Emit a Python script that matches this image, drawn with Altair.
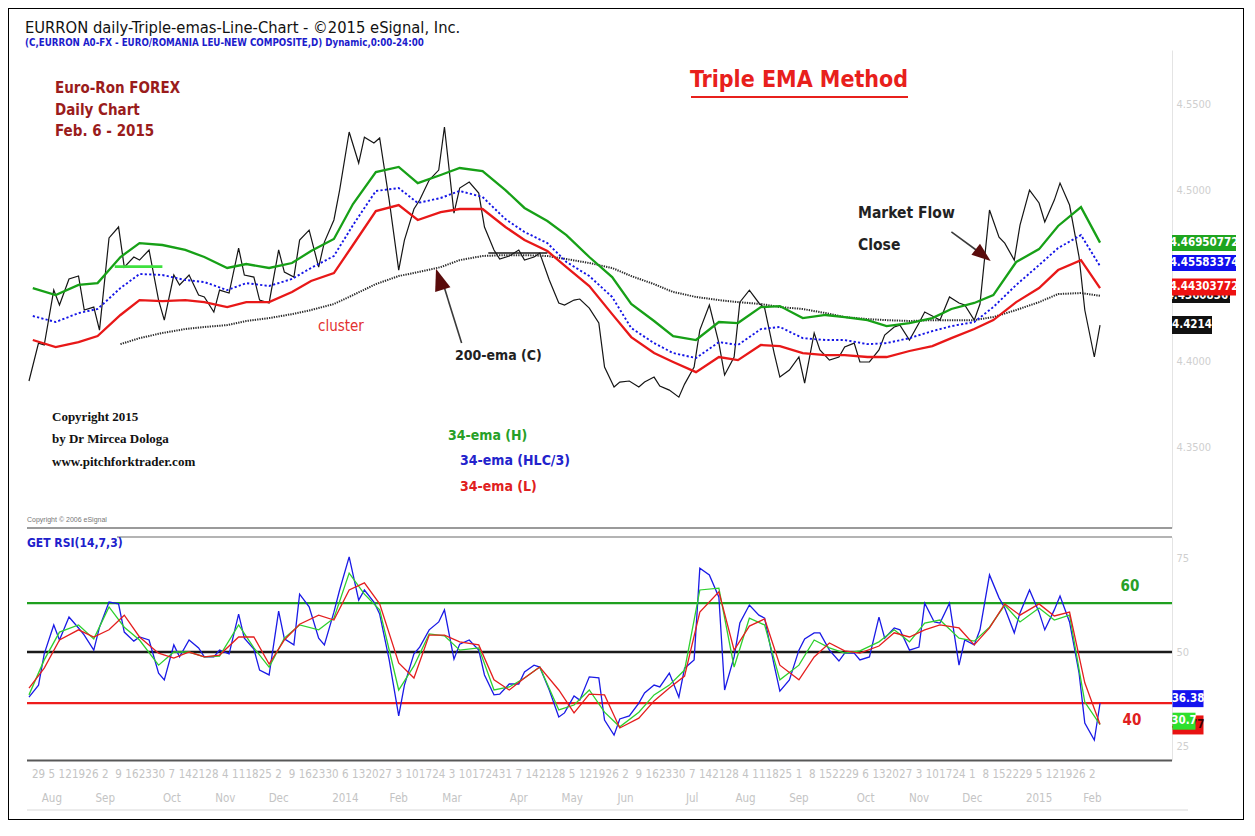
import altair as alt
import pandas as pd

NARROW = "'Liberation Sans Narrow', 'Arial Narrow', 'DejaVu Sans Condensed', 'Liberation Sans', sans-serif"
SERIF = "'Liberation Serif', 'Times New Roman', serif"

# ------------------------------------------------------------------ data
LAST_DAY = "2015-02-06"

close = [
    4.3888, 4.4109, 4.4098, 4.4418, 4.4331, 4.4483, 4.4500, 4.4302, 4.4319, 4.4185,
    4.4722, 4.4786, 4.4552, 4.4611, 4.4593, 4.4652, 4.4360, 4.4243, 4.4506, 4.4448,
    4.4506, 4.4389, 4.4378, 4.4290, 4.4418, 4.4401, 4.4663, 4.4506, 4.4494, 4.4360,
    4.4343, 4.4652, 4.4523, 4.4494, 4.4710, 4.4768, 4.4552, 4.4698, 4.4827, 4.5001,
    4.5340, 4.5159, 4.5310, 4.5276, 4.5305, 4.4943, 4.4535, 4.4710, 4.4891, 4.4943,
    4.5060, 4.5118, 4.5369, 4.4867, 4.5013, 4.5048, 4.4984, 4.4786, 4.4652, 4.4599,
    4.4617, 4.4652, 4.4593, 4.4611, 4.4634, 4.4477, 4.4343, 4.4331, 4.4360, 4.4366,
    4.4313, 4.4226, 4.3969, 4.3853, 4.3882, 4.3888, 4.3853, 4.3882, 4.3911, 4.3859,
    4.3835, 4.3794, 4.3870, 4.3969, 4.4185, 4.4331, 4.4109, 4.3923, 4.4028, 4.4348,
    4.4418, 4.4343, 4.4313, 4.4051, 4.3911, 4.3952, 4.4028, 4.3876, 4.4168, 4.4069,
    4.4010, 4.4028, 4.4086, 4.4109, 4.3999, 4.3999, 4.4069, 4.4156, 4.4203, 4.4214,
    4.4127, 4.4226, 4.4290, 4.4261, 4.4243, 4.4378, 4.4343, 4.4331, 4.4243, 4.4337,
    4.4885, 4.4727, 4.4692, 4.4593, 4.4797, 4.5001, 4.4926, 4.4815, 4.4943, 4.5042,
    4.4914, 4.4611, 4.4302, 4.4028, 4.4214,
]

ema_h = [
    4.4430, 4.4389, 4.4448, 4.4459, 4.4611, 4.4692, 4.4681, 4.4652, 4.4611, 4.4547,
    4.4570, 4.4547, 4.4576, 4.4646, 4.4716, 4.4920, 4.5106, 4.5136, 4.5042, 4.5089,
    4.5130, 4.5112, 4.5001, 4.4897, 4.4821, 4.4739, 4.4611, 4.4494, 4.4337, 4.4238,
    4.4150, 4.4127, 4.4232, 4.4226, 4.4319, 4.4325, 4.4255, 4.4273, 4.4261, 4.4243,
    4.4208, 4.4226, 4.4255, 4.4308, 4.4343, 4.4389, 4.4582, 4.4657, 4.4792, 4.4902,
    4.4695,
]
ema_hlc = [
    4.4267, 4.4232, 4.4284, 4.4308, 4.4430, 4.4512, 4.4506, 4.4477, 4.4465, 4.4418,
    4.4459, 4.4442, 4.4483, 4.4547, 4.4617, 4.4797, 4.4996, 4.5013, 4.4926, 4.4955,
    4.4996, 4.4961, 4.4832, 4.4757, 4.4692, 4.4582, 4.4500, 4.4378, 4.4197, 4.4109,
    4.4051, 4.4022, 4.4115, 4.4098, 4.4191, 4.4203, 4.4138, 4.4127, 4.4127, 4.4103,
    4.4109, 4.4138, 4.4179, 4.4208, 4.4232, 4.4319, 4.4448, 4.4564, 4.4663, 4.4739,
    4.4558,
]
ema_l = [
    4.4127, 4.4086, 4.4115, 4.4150, 4.4273, 4.4360, 4.4354, 4.4360, 4.4348, 4.4319,
    4.4348, 4.4348, 4.4407, 4.4471, 4.4517, 4.4681, 4.4879, 4.4914, 4.4827, 4.4873,
    4.4891, 4.4891, 4.4786, 4.4710, 4.4646, 4.4552, 4.4442, 4.4278, 4.4144, 4.4051,
    4.3999, 4.3940, 4.4028, 4.4010, 4.4098, 4.4092, 4.4051, 4.4039, 4.4039, 4.4028,
    4.4028, 4.4063, 4.4092, 4.4138, 4.4191, 4.4243, 4.4348, 4.4430, 4.4535, 4.4593,
    4.4430,
]
ema_200 = [
    None, None, None, None, 4.4103, 4.4138, 4.4168, 4.4191, 4.4203, 4.4214,
    4.4238, 4.4255, 4.4278, 4.4302, 4.4337, 4.4389, 4.4453, 4.4500, 4.4523, 4.4552,
    4.4593, 4.4617, 4.4622, 4.4622, 4.4617, 4.4599, 4.4576, 4.4547, 4.4500, 4.4453,
    4.4407, 4.4378, 4.4360, 4.4348, 4.4337, 4.4319, 4.4308, 4.4284, 4.4261, 4.4249,
    4.4243, 4.4238, 4.4243, 4.4243, 4.4243, 4.4261, 4.4302, 4.4348, 4.4395, 4.4401,
    4.4385,
]

rsi_fast = [
    38.0, 41.2, 49.5, 57.2, 53.2, 59.3, 56.4, 54.5, 50.5, 56.6,
    63.3, 62.8, 55.3, 52.9, 54.0, 53.2, 44.4, 42.6, 51.9, 48.7,
    53.2, 51.1, 48.7, 48.7, 50.5, 49.5, 60.1, 53.7, 50.8, 45.2,
    43.9, 60.9, 53.5, 51.9, 65.4, 62.0, 53.7, 51.9, 60.6, 66.5,
    75.3, 63.8, 66.5, 63.3, 60.1, 47.9, 33.0, 41.2, 49.5, 51.3,
    55.9, 58.0, 61.2, 48.1, 52.1, 53.2, 50.5, 43.9, 38.6, 38.8,
    41.5, 41.5, 44.7, 46.5, 46.0, 39.9, 32.7, 33.8, 38.3, 37.2,
    43.4, 43.1, 31.9, 27.9, 32.2, 33.0, 36.4, 39.1, 41.2, 40.7,
    44.4, 38.0, 45.7, 47.9, 72.3, 70.5, 64.6, 39.9, 48.7, 57.7,
    62.5, 59.8, 59.0, 46.5, 39.6, 42.6, 50.5, 53.5, 55.1, 55.1,
    50.5, 47.6, 49.7, 49.7, 47.9, 48.7, 59.3, 53.7, 56.4, 55.9,
    50.5, 51.3, 63.0, 58.0, 57.7, 63.0, 46.5, 53.2, 51.9, 55.9,
    70.5, 64.4, 61.7, 55.1, 60.4, 66.5, 60.6, 55.9, 61.2, 64.9,
    58.0, 44.4, 31.1, 26.6, 36.38,
]
rsi_green = [
    38.6, 47.9, 55.3, 57.2, 53.5, 62.0, 56.6, 53.2, 46.5, 50.0,
    50.0, 48.7, 48.9, 57.2, 51.1, 46.0, 53.7, 57.2, 55.9, 59.0,
    71.0, 65.4, 61.2, 39.9, 46.3, 54.8, 54.3, 50.5, 51.1, 39.9,
    40.7, 43.1, 46.0, 34.6, 35.9, 39.9, 34.0, 30.1, 34.0, 38.6,
    41.2, 45.2, 66.5, 67.0, 46.0, 59.0, 57.2, 42.6, 46.5, 53.2,
    51.1, 49.7, 50.3, 52.7, 55.9, 52.7, 57.7, 58.5, 53.7, 52.9,
    56.6, 62.5, 58.0, 61.7, 58.5, 59.8, 36.7, 30.7,
]
rsi_red = [
    40.4, 45.7, 53.2, 55.9, 54.0, 55.9, 59.8, 54.0, 49.7, 48.4,
    50.0, 48.7, 49.2, 54.0, 54.0, 46.8, 53.2, 57.4, 59.8, 58.5,
    66.5, 68.4, 62.8, 47.1, 43.1, 54.5, 54.5, 52.7, 51.9, 42.6,
    39.9, 43.1, 46.0, 39.9, 33.8, 38.8, 38.6, 29.8, 32.4, 37.0,
    40.4, 43.6, 60.6, 66.0, 50.5, 56.9, 58.8, 46.5, 42.6, 48.7,
    52.4, 50.3, 49.7, 51.6, 55.1, 54.0, 55.9, 57.2, 56.4, 51.9,
    56.4, 62.8, 59.8, 62.8, 59.6, 60.6, 41.8, 30.8,
]
rsi_levels = [63.0, 50.0, 36.4]
rsi_level_labels = ["60", "40"]

# drawing-tool annotations (date, price)
seg_green = {"d1": ["2013-09-07"], "d2": ["2013-10-02"], "p": [4.4555]}
seg_black = {"d1": ["2014-03-22"], "d2": ["2014-04-22"], "p": [4.4634]}
arrow_lines = {"d1": ["2014-03-08", "2014-11-20"], "d2": ["2014-02-27", "2014-12-03"],
               "p1": [4.4109, 4.4757], "p2": [4.4430, 4.4652]}
arrow_heads = {"d": ["2014-02-24T16:00:00", "2014-12-06"], "p": [4.4471, 4.4628]}

# last-value boxes
price_box_pos = [4.4383, 4.4692, 4.4576, 4.4436, 4.4214]
price_box_txt = ["4.43608367", "4.46950772", "4.45583374", "4.44303772", "4.4214"]
rsi_box_pos = [37.6, 30.6, 31.6]
rsi_box_txt = ["36.38", "30.77", "30.7"]

price_ticks = [4.35, 4.40, 4.50, 4.55]
rsi_ticks = [25, 50, 75]

# time-axis tick labels: every Monday, month name under the first Monday of a month
mondays = pd.date_range("2013-07-29", "2015-02-02", freq="W-MON")
day_labels = [str(d.day) for d in mondays]
month_dates = [d for d in mondays if d.day <= 7]
month_labels = [str(d.year) if d.month == 1 else d.strftime("%b") for d in month_dates]

TITLE = "EURRON daily-Triple-emas-Line-Chart - \u00a92015 eSignal, Inc."
SUBTITLE = "(C,EURRON A0-FX - EURO/ROMANIA LEU-NEW COMPOSITE,D) Dynamic,0:00-24:00"
INFO = ["Euro-Ron FOREX", "Daily Chart", "Feb. 6 - 2015"]
METHOD = "Triple EMA Method"
COPY = ["Copyright 2015", "by Dr Mircea Dologa", "www.pitchforktrader.com"]
LEGEND = ["34-ema (H)", "34-ema (HLC/3)", "34-ema (L)"]
NOTES = ["cluster", "200-ema (C)", "Market Flow", "Close"]
SMALL = ["Copyright \u00a9 2006 eSignal", "GET RSI(14,7,3)"]

# ------------------------------------------------------------------ frames
close_df = pd.DataFrame({"d": pd.bdate_range(end=LAST_DAY, periods=len(close), freq="3B"), "v": close})
ema_dates = pd.bdate_range(end=LAST_DAY, periods=len(ema_h), freq="8B")
emah_df = pd.DataFrame({"d": ema_dates, "v": ema_h})
emahlc_df = pd.DataFrame({"d": ema_dates, "v": ema_hlc})
emal_df = pd.DataFrame({"d": ema_dates, "v": ema_l})
ema200_df = pd.DataFrame({"d": ema_dates, "v": ema_200}).dropna()
rsif_df = pd.DataFrame({"d": pd.bdate_range(end=LAST_DAY, periods=len(rsi_fast), freq="3B"), "v": rsi_fast})
slow_dates = pd.bdate_range(end=LAST_DAY, periods=len(rsi_green), freq="6B")
rsig_df = pd.DataFrame({"d": slow_dates, "v": rsi_green})
rsir_df = pd.DataFrame({"d": slow_dates, "v": rsi_red})
days_df = pd.DataFrame({"d": mondays, "t": day_labels})
months_df = pd.DataFrame({"d": month_dates, "t": month_labels})

# ------------------------------------------------------------------ scales / axes
XS = alt.Scale(domain=[alt.DateTime(year=2013, month=7, date=22, hours=23),
                       alt.DateTime(year=2015, month=3, date=14, hours=17)],
               range=[19, 1162])
YP = alt.Scale(domain=[4.3031, 4.5818], range=[520, 42], zero=False, nice=False)
YR = alt.Scale(domain=[21.28, 80.59], range=[752, 529], zero=False, nice=False)

PAXIS = alt.Axis(orient="right", offset=-72, title=None, grid=False, ticks=False,
                 values=price_ticks, format=".4f", labelColor="#cfcfcf", labelFont=NARROW,
                 labelFontSize=11, labelPadding=4, domainColor="#e4e4e4", domainWidth=1)
RAXIS = alt.Axis(orient="right", offset=-72, title=None, grid=False, ticks=False,
                 values=rsi_ticks, labelColor="#cfcfcf", labelFont=NARROW,
                 labelFontSize=11, labelPadding=4, domainColor="#e4e4e4", domainWidth=1)


def X(field):
    return alt.X(f"{field}:T", scale=XS, axis=None, title=None)


def YPr(field, axis=None):
    return alt.Y(f"{field}:Q", scale=YP, axis=axis, title=None)


def YRs(field, axis=None):
    return alt.Y(f"{field}:Q", scale=YR, axis=axis, title=None)


def line(df, color, width, yfun, dash=None, axis_y=None):
    kw = dict(color=color, strokeWidth=width, interpolate="linear")
    if dash:
        kw["strokeDash"] = dash
    return alt.Chart(df).mark_line(**kw).encode(x=X("d"), y=yfun("v", axis_y))


def txt(s, x, y, size, color, weight="normal", font=NARROW, align="left"):
    return alt.Chart(pd.DataFrame({"t": [s]})).mark_text(
        align=align, baseline="middle", fontSize=size, font=font,
        fontWeight=weight, color=color).encode(x=alt.value(x), y=alt.value(y), text="t:N")


def hrule(x1, x2, y, color, width):
    return alt.Chart(pd.DataFrame({"a": [0]})).mark_rule(color=color, strokeWidth=width).encode(
        x=alt.value(x1), x2=alt.value(x2), y=alt.value(y))


def value_box(yfun, val, label, bg, fg, cx, w, h):
    df = pd.DataFrame({"v": [val], "t": [label]})
    r = h / w
    path = f"M-1,-{r:.4f}L1,-{r:.4f}L1,{r:.4f}L-1,{r:.4f}Z"
    box = alt.Chart(df).mark_point(shape=path, filled=True, size=w * w, color=bg,
                                   opacity=1, strokeWidth=0).encode(x=alt.value(cx), y=yfun("v"))
    t = alt.Chart(df).mark_text(color=fg, fontSize=11.5, font=NARROW, fontWeight="bold",
                                align="center", baseline="middle").encode(
        x=alt.value(cx), y=yfun("v"), text="t:N")
    return [box, t]


# ------------------------------------------------------------------ decorations (behind)
layers = [
    hrule(19, 1164, 520, "#9a9a9a", 2),
    hrule(109, 1164, 529, "#b4b4b4", 2),
    hrule(19, 1164, 752.5, "#585858", 2),
    hrule(19, 1180, 802, "#e6e6e6", 1.5),
    # time-axis labels placed through the x scale
    alt.Chart(days_df).mark_text(font=NARROW, fontSize=11.5, color="#c4c4c4",
                                 align="center", baseline="middle").encode(
        x=X("d"), y=alt.value(767), text="t:N"),
    alt.Chart(months_df).mark_text(font=NARROW, fontSize=11.5, color="#c4c4c4",
                                   align="center", baseline="middle").encode(
        x=X("d"), y=alt.value(791), text="t:N"),
]

# ------------------------------------------------------------------ price panel
layers += [
    line(close_df, "#151515", 1.2, YPr, axis_y=PAXIS),
    line(ema200_df, "#2a2a2a", 2.0, YPr, dash=[1.3, 1.1]),
    line(emal_df, "#e81818", 2.3, YPr),
    line(emahlc_df, "#1515e6", 1.9, YPr, dash=[2.2, 2.2]),
    line(emah_df, "#17a017", 2.3, YPr),
    alt.Chart(pd.DataFrame(seg_green)).mark_rule(color="#3ee03e", strokeWidth=2.6).encode(
        x=X("d1"), x2="d2:T", y=YPr("p")),
    alt.Chart(pd.DataFrame(seg_black)).mark_rule(color="#1a1a1a", strokeWidth=1.6).encode(
        x=X("d1"), x2="d2:T", y=YPr("p")),
    alt.Chart(pd.DataFrame(arrow_lines)).mark_rule(color="#3a3a3a", strokeWidth=1.6).encode(
        x=X("d1"), x2="d2:T", y=YPr("p1"), y2="p2:Q"),
]
heads = pd.DataFrame(arrow_heads)
tri = "M0,-1L0.62,0.7L-0.62,0.7Z"
layers.append(alt.Chart(heads.iloc[[0]]).mark_point(
    shape=tri, filled=True, size=670, angle=342, color="#5a0c0c", opacity=1).encode(
    x=X("d"), y=YPr("p")))
layers.append(alt.Chart(heads.iloc[[1]]).mark_point(
    shape=tri, filled=True, size=500, angle=128, color="#5a0c0c", opacity=1).encode(
    x=X("d"), y=YPr("p")))

box_specs = [("#111111", 1193, 58, 14), ("#1fa51f", 1196, 64, 16), ("#1010ee", 1196, 64, 16),
             ("#ee1212", 1196, 64, 17), ("#111111", 1184, 40, 18)]
for val, lab, (bg, cx, w, h) in zip(price_box_pos, price_box_txt, box_specs):
    layers += value_box(YPr, val, lab, bg, "white", cx, w, h)

# ------------------------------------------------------------------ RSI panel
level_styles = [("#1fa01f", 2.2), ("#1a1a1a", 2.6), ("#ee1c1c", 2.2)]
for val, (col, w) in zip(rsi_levels, level_styles):
    layers.append(alt.Chart(pd.DataFrame({"v": [val]})).mark_rule(color=col, strokeWidth=w).encode(
        x=alt.value(19), x2=alt.value(1164), y=YRs("v")))
layers += [
    line(rsif_df, "#1a1ae6", 1.3, YRs, axis_y=RAXIS),
    line(rsig_df, "#2ed02e", 1.3, YRs),
    line(rsir_df, "#e41e1e", 1.3, YRs),
]
rsi_box_specs = [("#1414ee", "white", 1180, 31, 17), ("#e81212", "#3a0000", 1180, 31, 19),
                 ("#2ee02e", "white", 1176, 23, 17)]
for val, lab, (bg, fg, cx, w, h) in zip(rsi_box_pos, rsi_box_txt, rsi_box_specs):
    layers += value_box(YRs, val, lab, bg, fg, cx, w, h)

# ------------------------------------------------------------------ texts
layers += [
    hrule(683, 900, 89, "#e8201c", 2),
    txt(TITLE, 17, 20, 16.4, "#111111"),
    txt(SUBTITLE, 17, 35, 9.7, "#1c1ccc", weight="bold"),
    txt(INFO[0], 47, 80, 15, "#9a1c1c", weight="bold"),
    txt(INFO[1], 47, 102, 15, "#9a1c1c", weight="bold"),
    txt(INFO[2], 47, 123, 15, "#9a1c1c", weight="bold"),
    txt(METHOD, 791, 72, 23, "#e8201c", weight="bold", align="center"),
    txt(NOTES[0], 310, 318, 15, "#e23030"),
    txt(NOTES[1], 447, 348, 14, "#222222", weight="bold"),
    txt(NOTES[2], 850, 205, 15.5, "#222222", weight="bold"),
    txt(NOTES[3], 850, 237, 15.5, "#222222", weight="bold"),
    txt(COPY[0], 44, 409, 13, "#111111", weight="bold", font=SERIF),
    txt(COPY[1], 44, 431, 13, "#111111", weight="bold", font=SERIF),
    txt(COPY[2], 44, 454, 13, "#111111", weight="bold", font=SERIF),
    txt(LEGEND[0], 440, 428, 14, "#27a027", weight="bold"),
    txt(LEGEND[1], 452, 453, 14, "#2323cc", weight="bold"),
    txt(LEGEND[2], 452, 479, 14, "#e02020", weight="bold"),
    txt(SMALL[0], 19, 512, 7, "#777777", font="'Liberation Sans', sans-serif"),
    txt(SMALL[1], 19, 535, 12, "#2020cc", weight="bold"),
    txt(rsi_level_labels[0], 1122, 578, 15, "#27a027", weight="bold", align="center"),
    txt(rsi_level_labels[1], 1124, 712, 15, "#e02020", weight="bold", align="center"),
]

chart = alt.layer(*layers).resolve_scale(y="independent").properties(
    width=1236, height=812, padding=0, background="white"
).configure_view(stroke="black", strokeWidth=2)

chart.save("out.html", embed_options={"renderer": "svg", "actions": False})
